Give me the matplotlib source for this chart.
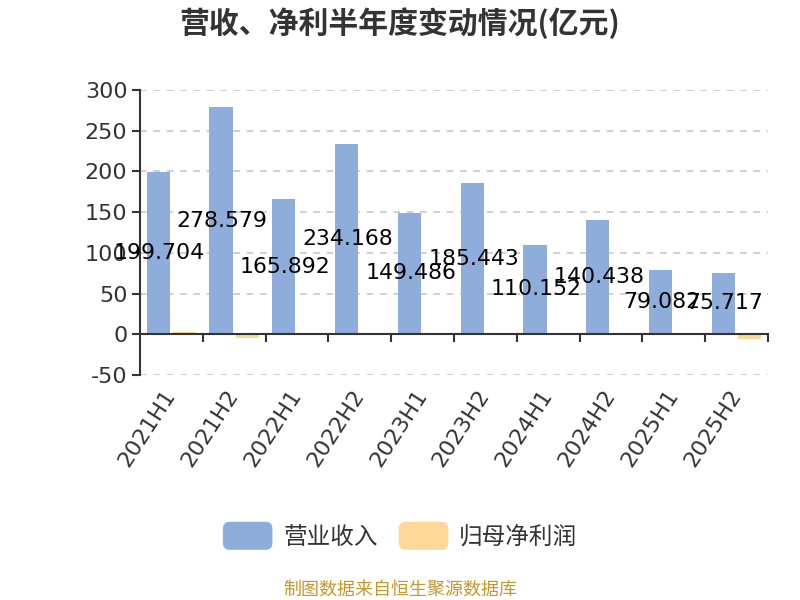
import matplotlib
matplotlib.use("Agg")
import numpy as np
import matplotlib.pyplot as plt
from matplotlib.patches import FancyBboxPatch, Patch
from matplotlib.legend_handler import HandlerPatch

plt.rcParams['font.family'] = ['Noto Sans CJK SC', 'DejaVu Sans']
plt.rcParams['axes.unicode_minus'] = False

# Data (亿元)
periods = ['2021H1', '2021H2', '2022H1', '2022H2', '2023H1',
           '2023H2', '2024H1', '2024H2', '2025H1', '2025H2']
revenue = [199.704, 278.579, 165.892, 234.168, 149.486,
           185.443, 110.152, 140.438, 79.082, 75.717]
net_profit = [2.8, -4.5, 1.0, 0.9, 0.8, 0.3, 0.9, 0.3, 0.5, -5.5]

blue = '#8EADDB'
orange = '#FFD897'
axis_color = '#333333'

fig = plt.figure(figsize=(8, 6), dpi=100)
ax = fig.add_axes([0.175, 0.375, 0.785, 0.475])

x = np.arange(len(periods))
w = 0.37
ax.bar(x - 0.21, revenue, w, color=blue, zorder=2)
ax.bar(x + 0.21, net_profit, w, color=orange, zorder=2)

for xi, v in zip(x, revenue):
    ax.text(xi - 0.19, v / 2, f'{v:.3f}', ha='center', va='center',
            fontsize=15.8, color='black', family=['DejaVu Sans'], zorder=4)

ax.set_xlim(-0.5, len(periods) - 0.5)
ax.set_ylim(-50, 300)
ax.set_yticks(np.arange(-50, 301, 50))
ax.yaxis.grid(True, linestyle=(0, (4, 4)), color='#c8c8c8', linewidth=1.2, zorder=0)
ax.set_axisbelow(True)

for s in ['top', 'right']:
    ax.spines[s].set_visible(False)
ax.spines['left'].set_color(axis_color)
ax.spines['left'].set_linewidth(1.5)
ax.spines['bottom'].set_position(('data', 0))
ax.spines['bottom'].set_color(axis_color)
ax.spines['bottom'].set_linewidth(1.5)

ax.tick_params(axis='y', direction='out', length=6, width=1.5, color=axis_color,
               labelsize=16, labelcolor='#333333', pad=3)
for lab in ax.get_yticklabels():
    lab.set_family(['DejaVu Sans'])

# boundaries as major ticks, category names as minor tick labels
ax.set_xticks(np.arange(0.5, len(periods), 1.0))
ax.tick_params(axis='x', which='major', direction='out', length=6, width=1.5,
               color=axis_color, labelbottom=False)
ax.set_xticks(x, minor=True)
ax.set_xticklabels(periods, minor=True, rotation=57, ha='right', va='center',
                   rotation_mode='anchor', fontsize=16, color='#333333',
                   family=['DejaVu Sans'])
ax.tick_params(axis='x', which='minor', length=0, pad=41)

fig.text(0.5, 0.962, '营收、净利半年度变动情况(亿元)', ha='center', va='center',
         fontsize=21.5, fontweight='bold', color='#333333')


class RoundHandler(HandlerPatch):
    def create_artists(self, legend, orig_handle, xdescent, ydescent,
                       width, height, fontsize, trans):
        p = FancyBboxPatch((-xdescent, -ydescent), width, height,
                           boxstyle='round,pad=0,rounding_size=5',
                           facecolor=orig_handle.get_facecolor(),
                           edgecolor='none', transform=trans)
        return [p]


handles = [Patch(facecolor=blue), Patch(facecolor=orange)]
fig.legend(handles, ['营业收入', '归母净利润'], loc='center',
           bbox_to_anchor=(0.5, 0.107), ncol=2, frameon=False,
           fontsize=17, handlelength=2.1, handleheight=1.45,
           handletextpad=0.45, columnspacing=0.9, labelcolor='#333333',
           handler_map={Patch: RoundHandler()})

fig.text(0.5, 0.017, '制图数据来自恒生聚源数据库', ha='center', va='center',
         fontsize=13, color='#C9962C')

fig.savefig('out.png', dpi=100)
